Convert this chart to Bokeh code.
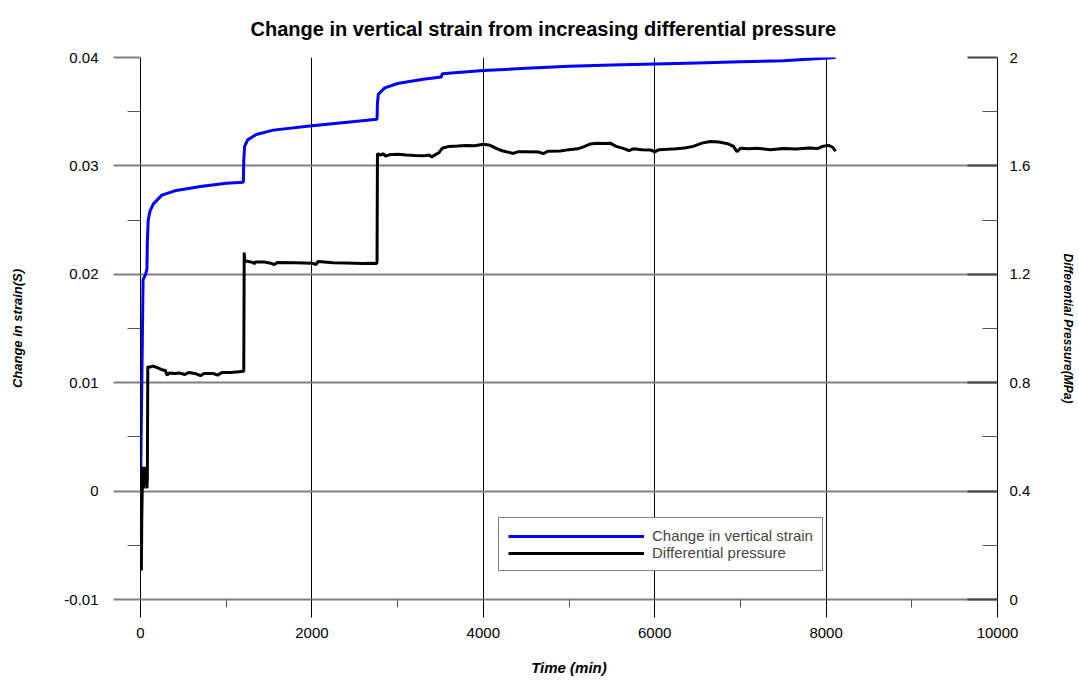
from bokeh.plotting import figure
from bokeh.models import Range1d, LinearAxis, FixedTicker, Legend, LegendItem
from bokeh.embed import file_html
from bokeh.resources import INLINE

# ---- data ----
strain_time = [0, 30, 60, 75, 80, 90, 110, 150, 250, 400, 700, 1000, 1200,
               1205, 1215, 1250, 1350, 1550, 2000, 2500, 2760,
               2765, 2775, 2850, 3000, 3300, 3510, 3520, 4000, 4500, 5000,
               5500, 6000, 6500, 7000, 7500, 8110]
strain = [0.0, 0.0195, 0.0200, 0.0205, 0.0230, 0.0250, 0.0258, 0.0265, 0.0273,
          0.0277, 0.0281, 0.0284, 0.0285,
          0.0305, 0.0318, 0.0324, 0.0329, 0.0333, 0.0337, 0.0341, 0.0343,
          0.0358, 0.0366, 0.0372, 0.0376, 0.0380, 0.0382, 0.0385, 0.0388,
          0.0390, 0.0392, 0.0393, 0.0394, 0.0395, 0.0396, 0.0397, 0.0400]

press_time = [10, 15, 20, 25, 35, 45, 55, 65, 75, 80, 85, 100, 150, 200, 250,
              290, 310, 340, 400, 450, 520, 560, 650, 700, 740, 850, 900, 950,
              1050, 1150, 1205, 1210, 1215, 1260, 1320, 1330, 1340, 1450, 1520,
              1560, 1600, 1800, 2000, 2050, 2070, 2250, 2400, 2600, 2700, 2755,
              2760, 2765, 2800, 2830, 2860, 2900, 3000, 3100, 3200, 3300, 3370,
              3400, 3430, 3480, 3520, 3600, 3700, 3800, 3900, 4000, 4080, 4150,
              4230, 4300, 4350, 4400, 4500, 4650, 4700, 4750, 4900, 5000, 5100,
              5170, 5250, 5330, 5420, 5480, 5550, 5650, 5700, 5750, 5850, 5950,
              6000, 6050, 6150, 6250, 6350, 6450, 6550, 6650, 6750, 6850, 6920,
              6960, 7000, 7100, 7200, 7350, 7500, 7650, 7800, 7900, 7960, 8030,
              8080, 8110]
pressure = [0.107, 0.30, 0.40, 0.49, 0.41, 0.49, 0.42, 0.48, 0.41, 0.45, 0.86,
            0.857, 0.861, 0.855, 0.848, 0.845, 0.828, 0.836, 0.834, 0.836,
            0.830, 0.838, 0.833, 0.826, 0.834, 0.834, 0.828, 0.838, 0.838,
            0.840, 0.842, 1.280, 1.250, 1.247, 1.243, 1.238, 1.245, 1.245,
            1.241, 1.236, 1.244, 1.243, 1.241, 1.236, 1.247, 1.243, 1.242,
            1.240, 1.241, 1.240, 1.245, 1.645, 1.640, 1.645, 1.636, 1.641,
            1.643, 1.640, 1.638, 1.637, 1.640, 1.632, 1.640, 1.648, 1.665,
            1.672, 1.673, 1.675, 1.674, 1.680, 1.676, 1.665, 1.655, 1.650,
            1.646, 1.652, 1.652, 1.651, 1.645, 1.654, 1.655, 1.660, 1.663,
            1.670, 1.681, 1.684, 1.683, 1.684, 1.672, 1.663, 1.656, 1.663,
            1.660, 1.659, 1.652, 1.660, 1.661, 1.663, 1.666, 1.672, 1.684,
            1.690, 1.688, 1.682, 1.672, 1.652, 1.665, 1.663, 1.665, 1.660,
            1.664, 1.662, 1.666, 1.664, 1.672, 1.676, 1.668, 1.654]

x_ticks = [0, 2000, 4000, 6000, 8000, 10000]
x_tick_labels = ["0", "2000", "4000", "6000", "8000", "10000"]
x_minor = [1000, 3000, 5000, 7000, 9000]
y_ticks = [-0.01, 0.0, 0.01, 0.02, 0.03, 0.04]
y_tick_labels = ["-0.01", "0", "0.01", "0.02", "0.03", "0.04"]
y_minor = [-0.005, 0.005, 0.015, 0.025, 0.035]
p_ticks = [0.0, 0.4, 0.8, 1.2, 1.6, 2.0]
p_tick_labels = ["0", "0.4", "0.8", "1.2", "1.6", "2"]
p_minor = [0.2, 0.6, 1.0, 1.4, 1.8]

title = "Change in vertical strain from increasing differential pressure"
FONT = "Liberation Sans"

p = figure(width=1079, height=684, output_backend="svg", toolbar_location=None,
           x_range=Range1d(0, 10000), y_range=Range1d(-0.01, 0.04),
           min_border_left=140, min_border_right=82, min_border_top=57,
           min_border_bottom=85, title=title)
p.outline_line_color = None
p.background_fill_color = "white"
p.border_fill_color = "white"

p.title.text_font = FONT
p.title.text_font_size = "20px"
p.title.text_font_style = "bold"
p.title.align = "left"
p.title.offset = 110
p.title.vertical_align = "top"
p.title.standoff = 32
p.title.text_color = "black"

# x axis
xa = p.xaxis[0]
xa.ticker = FixedTicker(ticks=x_ticks, minor_ticks=x_minor)
xa.major_label_overrides = {t: s for t, s in zip(x_ticks, x_tick_labels)}
xa.axis_line_color = "#808080"
xa.axis_line_width = 2
xa.major_tick_line_color = "black"
xa.major_tick_out = 18
xa.major_tick_in = 0
xa.minor_tick_line_color = "#555555"
xa.minor_tick_out = 8
xa.minor_tick_in = 0
xa.major_label_standoff = 10
xa.major_label_text_font = FONT
xa.major_label_text_font_size = "15px"
xa.major_label_text_color = "black"
xa.axis_label = "Time (min)"
xa.axis_label_text_font = FONT
xa.axis_label_text_font_style = "bold italic"
xa.axis_label_text_font_size = "15px"
xa.axis_label_text_color = "black"
xa.axis_label_standoff = 18

# left axis
ya = p.yaxis[0]
ya.ticker = FixedTicker(ticks=y_ticks, minor_ticks=y_minor)
ya.major_label_overrides = {t: s for t, s in zip(y_ticks, y_tick_labels)}
ya.axis_line_color = "black"
ya.axis_line_width = 1
ya.major_tick_line_color = "#808080"
ya.major_tick_line_width = 2
ya.major_tick_out = 27
ya.major_tick_in = 0
ya.minor_tick_line_color = "#555555"
ya.minor_tick_out = 13
ya.minor_tick_in = 0
ya.major_label_standoff = 15
ya.major_label_text_font = FONT
ya.major_label_text_font_size = "15px"
ya.major_label_text_color = "black"
ya.axis_label = "Change in strain(S)"
ya.axis_label_text_font = FONT
ya.axis_label_text_font_style = "bold italic"
ya.axis_label_text_font_size = "13px"
ya.axis_label_text_color = "black"
ya.axis_label_standoff = 36

# right axis
p.extra_y_ranges = {"press": Range1d(0, 2)}
ra = LinearAxis(y_range_name="press",
                ticker=FixedTicker(ticks=p_ticks, minor_ticks=p_minor))
ra.major_label_overrides = {t: s for t, s in zip(p_ticks, p_tick_labels)}
ra.axis_line_color = "black"
ra.axis_line_width = 1
ra.major_tick_line_color = "#444444"
ra.major_tick_line_width = 2
ra.major_tick_in = 30
ra.major_tick_out = 0
ra.minor_tick_line_color = "#555555"
ra.minor_tick_in = 15
ra.minor_tick_out = 0
ra.major_label_standoff = 12
ra.major_label_text_font = FONT
ra.major_label_text_font_size = "15px"
ra.major_label_text_color = "black"
ra.axis_label = "Differential Pressure(MPa)"
ra.axis_label_text_font = FONT
ra.axis_label_text_font_style = "bold italic"
ra.axis_label_text_font_size = "12px"
ra.axis_label_text_color = "black"
ra.axis_label_standoff = 28
p.add_layout(ra, "right")

# grids
p.xgrid.ticker = FixedTicker(ticks=x_ticks[:-1])
p.xgrid.grid_line_color = "black"
p.xgrid.grid_line_width = 1
p.ygrid.ticker = FixedTicker(ticks=y_ticks)
p.ygrid.grid_line_color = "#808080"
p.ygrid.grid_line_width = 2

r1 = p.line(strain_time, strain, line_color="#0000ff", line_width=3)
r2 = p.line(press_time, pressure, line_color="black", line_width=3,
            y_range_name="press")

legend = Legend(items=[LegendItem(label="Change in vertical strain", renderers=[r1]),
                       LegendItem(label="Differential pressure", renderers=[r2])],
                location=(358, 28))
legend.label_text_font = FONT
legend.label_text_font_size = "15px"
legend.label_height = 16
legend.glyph_height = 16
legend.glyph_width = 136
legend.spacing = 0
legend.padding = 9
legend.margin = 0
legend.label_standoff = 8
legend.border_line_color = "black"
legend.border_line_width = 1
legend.background_fill_color = "white"
legend.background_fill_alpha = 1.0
p.add_layout(legend)

open("out.html", "w").write(file_html(p, INLINE))
